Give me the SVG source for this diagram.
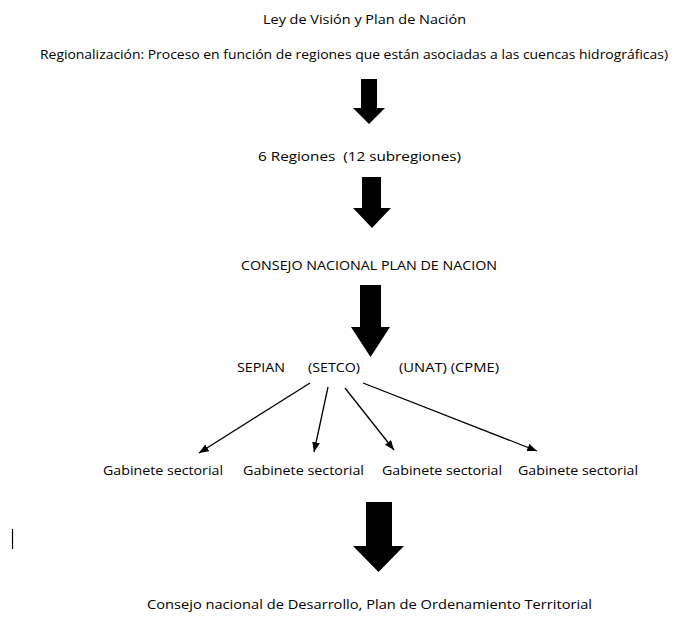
<svg xmlns="http://www.w3.org/2000/svg" width="689" height="617" viewBox="0 0 689 617">
<style>
text{font-family:"Open Sans","Noto Sans","Liberation Sans",sans-serif;font-size:13px;fill:#000;white-space:pre}
.c{text-anchor:middle}
.big{fill:#000}
.ln{stroke:#000;stroke-width:1.3;fill:none}
</style>
<defs>
<marker id="ah" viewBox="0 0 10 8" refX="10" refY="4" markerWidth="7.5" markerHeight="6" markerUnits="strokeWidth" orient="auto">
<path d="M0,0 L10,4 L0,8 Z" fill="#000"/>
</marker>
</defs>
<rect width="689" height="617" fill="#fff"/>
<g id="n-ley"><text x="364.5" y="24" class="c" textLength="203" lengthAdjust="spacingAndGlyphs">Ley de Visión y Plan de Nación</text></g>
<g id="n-regionalizacion"><text x="354" y="59" class="c" textLength="628" lengthAdjust="spacingAndGlyphs">Regionalización: Proceso en función de regiones que están asociadas a las cuencas hidrográficas)</text></g>
<g id="n-regiones"><text x="359.5" y="161" class="c" textLength="203" lengthAdjust="spacingAndGlyphs" xml:space="preserve">6 Regiones  (12 subregiones)</text></g>
<g id="n-consejo"><text x="369" y="270" class="c" textLength="256" lengthAdjust="spacingAndGlyphs">CONSEJO NACIONAL PLAN DE NACION</text></g>
<g id="n-sepian">
<text x="237" y="372" textLength="48" lengthAdjust="spacingAndGlyphs">SEPIAN</text>
<text x="308" y="372" textLength="52" lengthAdjust="spacingAndGlyphs">(SETCO)</text>
<text x="399" y="372" textLength="100" lengthAdjust="spacingAndGlyphs">(UNAT) (CPME)</text>
</g>
<g id="n-gab1"><text x="103" y="475" textLength="120" lengthAdjust="spacingAndGlyphs">Gabinete sectorial</text></g>
<g id="n-gab2"><text x="243" y="475" textLength="121" lengthAdjust="spacingAndGlyphs">Gabinete sectorial</text></g>
<g id="n-gab3"><text x="382" y="475" textLength="120" lengthAdjust="spacingAndGlyphs">Gabinete sectorial</text></g>
<g id="n-gab4"><text x="518" y="475" textLength="120" lengthAdjust="spacingAndGlyphs">Gabinete sectorial</text></g>
<g id="n-final"><text x="369.5" y="609" class="c" textLength="445" lengthAdjust="spacingAndGlyphs">Consejo nacional de Desarrollo, Plan de Ordenamiento Territorial</text></g>
<line x1="12.5" y1="529" x2="12.5" y2="549" stroke="#000" stroke-width="1.2"/>
<g id="connectors">
<path class="big" d="M361,79 H377 V108 H385 L369,124 L353,108 H361 Z"/>
<path class="big" d="M362,177 H381 V208 H391 L372,228 L353,208 H362 Z"/>
<path class="big" d="M360,285 H381 V327 H390 L370.5,357 L351,327 H360 Z"/>
<path class="big" d="M366,502 H392 V546 H404 L378.5,572 L353,546 H366 Z"/>
<line class="ln" x1="310" y1="383" x2="199" y2="453" marker-end="url(#ah)"/>
<line class="ln" x1="328" y1="387" x2="314" y2="452" marker-end="url(#ah)"/>
<line class="ln" x1="345" y1="388" x2="394" y2="450" marker-end="url(#ah)"/>
<line class="ln" x1="363" y1="383" x2="537" y2="451" marker-end="url(#ah)"/>
</g>
</svg>
